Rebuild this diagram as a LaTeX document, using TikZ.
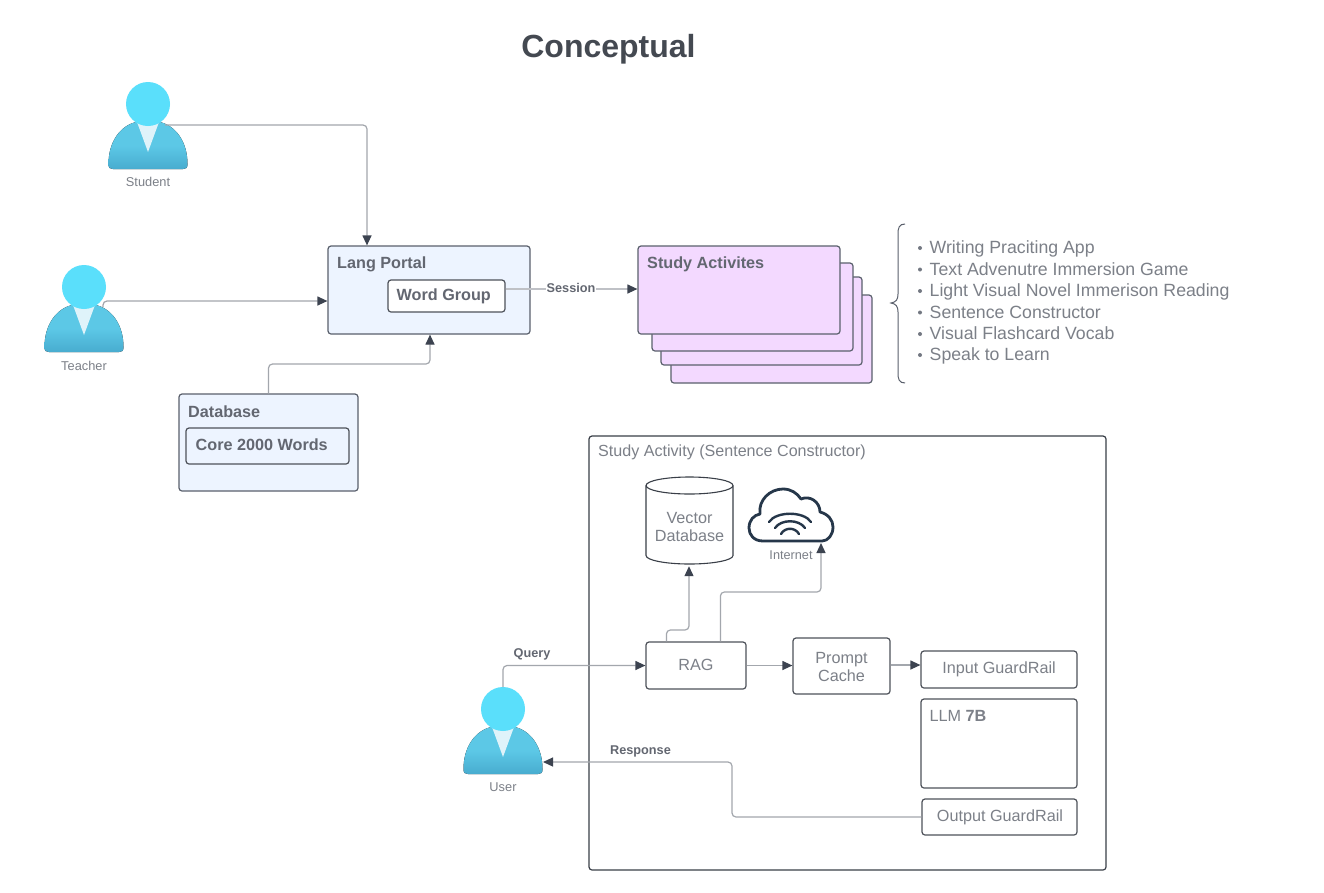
\documentclass[tikz,border=0pt]{standalone}
\usepackage{fontspec}
\setmainfont{Liberation Sans}
\usetikzlibrary{arrows.meta,calc}
\definecolor{txt}{HTML}{7C8088}
\definecolor{txtb}{HTML}{636771}
\definecolor{edge}{HTML}{5A606C}
\definecolor{wire}{HTML}{A3A7AD}
\definecolor{tipc}{HTML}{3C4350}
\definecolor{blueb}{HTML}{EDF4FF}
\definecolor{pinkb}{HTML}{F3D9FF}
\definecolor{framec}{HTML}{3A3F48}
\definecolor{cloudc}{HTML}{26374A}
\newcommand{\fs}[1]{\fontsize{#1}{#1}\selectfont}
\tikzset{
  x=1pt,y=-1pt,
  boxa/.style={draw=edge,line width=1.2pt,rounded corners=3pt,inner sep=0pt},
  blueblock/.style={boxa,fill=blueb},
  pinkblock/.style={boxa,fill=pinkb},
  whiteblock/.style={boxa,fill=white,draw=framec!90,align=center,text=txt,font=\fs{16.2}},
  hd/.style={anchor=west,inner sep=0pt,font=\bfseries\fs{16.2},text=txtb},
  wirelab/.style={inner sep=1pt,font=\bfseries\fs{12.7},text=txtb},
  who/.style={inner sep=0pt,font=\fs{12.8},text=txt},
  li/.style={anchor=west,inner sep=0pt,font=\fs{17.7},text=txt,text height=13pt,text depth=4pt},
  wire/.style={draw=wire,line width=1.2pt,rounded corners=4pt,-{Triangle[length=10pt,width=9pt,color=tipc,fill=tipc]}},
}
% name, cx, top
\newcommand{\person}[3]{%
  \begin{scope}[shift={(#2,#3)}]
    \fill[top color=ACol,bottom color=BCol,middle color=ACol]
      (-39.5,82) .. controls (-39.5,60) and (-28,44) .. (-12,40) -- (12,40)
      .. controls (28,44) and (39.5,60) .. (39.5,82)
      .. controls (39.5,86) and (38,87) .. (35,87) -- (-35,87)
      .. controls (-38,87) and (-39.5,86) .. (-39.5,82) -- cycle;
    \fill[DCol] (-11,40) -- (11,40) -- (0,70) -- cycle;
    \fill[CCol] (-11,40) .. controls (-5,44) and (5,44) .. (11,40) -- cycle;
    \fill[HCol] (0,22) circle[radius=22];
    \coordinate (#1 top) at (0,0);
    \coordinate (#1 side) at (39,62);
  \end{scope}}
\definecolor{ACol}{HTML}{5CC8E6}
\definecolor{BCol}{HTML}{48ACCF}
\definecolor{CCol}{HTML}{3ECBE9}
\definecolor{DCol}{HTML}{DFF3FA}
\definecolor{HCol}{HTML}{5ADFFB}
\begin{document}
\begin{tikzpicture}
\useasboundingbox (0,0) rectangle (1324,892);
\fill[white] (0,0) rectangle (1324,892);

\node[inner sep=0pt,font=\bfseries\fs{32},text=framec!95] (title) at (608.5,49) {Conceptual};

% people
\person{student}{148}{82}
\person{teacher}{84}{265}
\person{user}{503}{687}
\coordinate (student out) at (165,125);
\coordinate (teacher out) at (103,307);
\node[who] (studentlab) at (148,182) {Student};
\node[who] (teacherlab) at (84,366) {Teacher};
\node[who] (userlab) at (503,787) {User};

% Lang portal
\node[blueblock,minimum width=202pt,minimum height=88pt] (lang) at (429,290) {};
\node[hd] (langlab) at (337,264) {Lang Portal};
\node[boxa,fill=white,draw=framec!90,minimum width=117pt,minimum height=32pt] (wg) at (446.5,296) {};
\node[hd] (wglab) at (396.5,296.5) {Word Group};

% Database
\node[blueblock,minimum width=179pt,minimum height=97pt] (db) at (268.5,442.5) {};
\node[hd] (dblab) at (188,411.5) {Database};
\node[boxa,fill=blueb,draw=framec!90,minimum width=163pt,minimum height=36pt] (core) at (267.5,446) {};
\node[hd] (corelab) at (195.5,444.5) {Core 2000 Words};

% Study activities
\node[pinkblock,minimum width=201pt,minimum height=88pt] (sa4) at (771.5,339) {};
\node[pinkblock,minimum width=201pt,minimum height=88pt] (sa3) at (761.5,321) {};
\node[pinkblock,minimum width=201pt,minimum height=88pt] (sa2) at (752.5,307) {};
\node[pinkblock,minimum width=202pt,minimum height=88pt] (sa1) at (739,290) {};
\node[hd] (salab) at (647,264) {Study Activites};

% brace
\draw[edge,line width=1pt] (905,224) .. controls (899,224) and (898,228) .. (898,234)
  -- (898,294) .. controls (898,300) and (896,302) .. (891,303)
  .. controls (896,304) and (898,306) .. (898,312)
  -- (898,373) .. controls (898,379) and (899,383) .. (905,383);

% list
\foreach \n/\yy/\tt in {a/249/Writing Praciting App,b/270.5/Text Advenutre Immersion Game,c/292/Light Visual Novel Immerison Reading,d/313.5/Sentence Constructor,e/335/Visual Flashcard Vocab,f/356/Speak to Learn}{
  \fill[edge!85] (920,\yy-1) circle[radius=2];
  \node[li] (li\n) at (929.5,\yy) {\tt};
}

% Frame
\node[draw=framec,line width=1.2pt,rounded corners=3pt,minimum width=517pt,minimum height=434pt,inner sep=0pt] (frame) at (847.5,653) {};
\node[anchor=west,inner sep=0pt,font=\fs{16.1},text=txt] (framelab) at (598,452.5) {Study Activity (Sentence Constructor)};

% Vector DB
\node[minimum width=87pt,minimum height=87pt,inner sep=0pt] (vdb) at (689.5,520.5) {};
\node[inner sep=0pt,align=center,text=txt,font=\fs{16.2}] (vdblab) at (689.5,527) {Vector\\[2pt]Database};
\draw[framec,line width=1.1pt] (646,485.5) arc[start angle=180,end angle=360,x radius=43.5,y radius=8.5]
  arc[start angle=0,end angle=180,x radius=43.5,y radius=8.5] -- cycle;
\draw[framec,line width=1.1pt] (646,485.5) -- (646,555.5) arc[start angle=180,end angle=0,x radius=43.5,y radius=8.5] -- (733,485.5);

% Cloud
\draw[cloudc,line width=2.8pt,line join=round] (763,541)
  .. controls (754,541) and (749,535) .. (749,528)
  .. controls (749,520) and (754,515) .. (760,514)
  .. controls (758,500) and (770,489) .. (783,489)
  .. controls (791,489) and (797,493) .. (801,499)
  .. controls (810,495) and (820,502) .. (820,512)
  .. controls (828,514) and (833,520) .. (833,527)
  .. controls (833,535) and (828,541) .. (822,541) -- cycle;
\draw[cloudc,line width=2.4pt,line cap=round] (769,522) .. controls (776,511) and (804,511) .. (811,522);
\draw[cloudc,line width=2.4pt,line cap=round] (775,528) .. controls (781,519) and (799,519) .. (805,528);
\draw[cloudc,line width=2.4pt,line cap=round] (781,534) .. controls (785,527) and (795,527) .. (799,534);
\coordinate (cloud) at (821,543);
\node[inner sep=0pt,font=\fs{12.7},text=txt] (inetlab) at (791,555.5) {Internet};

% Pipeline
\node[whiteblock,minimum width=100pt,minimum height=47pt] (rag) at (696,665.5) {};
\node[inner sep=0pt,font=\fs{16.2},text=txt] (raglab) at (696,664.5) {RAG};
\node[whiteblock,minimum width=97pt,minimum height=56pt] (prompt) at (841.5,666) {\rule{0pt}{13pt}Prompt\\[2pt]Cache};
\node[whiteblock,minimum width=156pt,minimum height=37pt] (input) at (999,669.5) {};
\node[inner sep=0pt,font=\fs{16.2},text=txt] (inputlab) at (999,669.5) {Input GuardRail};
\node[whiteblock,minimum width=156pt,minimum height=89pt] (llm) at (999,743.5) {};
\node[anchor=west,inner sep=0pt,font=\fs{16.2},text=txt] (llmlab) at (929.5,715.5) {LLM \textbf{7B}};
\node[whiteblock,minimum width=155pt,minimum height=36pt] (output) at (999.5,817) {\hspace*{1pt}Output GuardRail};

% Connectors
\draw[wire] (student out) -| (lang.north west -| 367,0);
\draw[wire] (teacher out) |- (lang.west |- 0,301);
\draw[wire] ($(db.north)$) |- (430,364) -- (lang.south -| 430,0);
\draw[wire,draw=wire!70] (wg.east |- 0,289) -- (sa1.west |- 0,289);
\node[wirelab,fill=white] (sess) at (571,288) {Session};
\draw[wire] (user top) |- (rag.west);
\node[wirelab] (qlab) at (532,654) {Query};
\draw[wire] (output.west) -| (732,762) -- (543,762);
\node[wirelab] (rlab) at (640.5,751) {Response};
\draw[wire] ($(rag.north west)+(21,0)$) |- (689,630) -- ($(vdb.south -| 689,0)+(0,2)$);
\draw[wire] ($(rag.north west)+(75,0)$) |- (821,592) -- (cloud);
\draw[wire] (rag.east) -- (prompt.west |- rag.east);
\draw[wire] (prompt.east |- 0,665) -- (input.west |- 0,665);
\end{tikzpicture}
\end{document}
